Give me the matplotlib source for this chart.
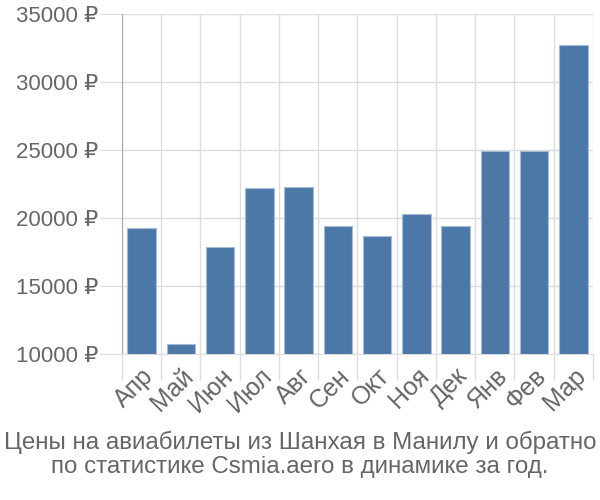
import numpy as np
import matplotlib
matplotlib.use("Agg")
import matplotlib.pyplot as plt

plt.rcParams['font.family'] = ['Liberation Sans', 'DejaVu Sans']

months = ['Апр', 'Май', 'Июн', 'Июл', 'Авг', 'Сен', 'Окт', 'Ноя', 'Дек', 'Янв', 'Фев', 'Мар']
prices = [19300, 10700, 17900, 22200, 22300, 19400, 18700, 20300, 19400, 24950, 24950, 32700]
yticks = [10000, 15000, 20000, 25000, 30000, 35000]
ylabels = [f'{v} ₽' for v in yticks]
title = 'Цены на авиабилеты из Шанхая в Манилу и обратно\nпо статистике Csmia.aero в динамике за год.'

fig = plt.figure(figsize=(6, 5), dpi=100)
ax = fig.add_axes([0.2033, 0.292, 0.785, 0.68])

x = np.arange(len(months))
ax.bar(x, prices, width=0.73, color='#4c78a8', edgecolor='#a5bbd6', linewidth=0.8, zorder=3)

ax.set_xlim(-0.5, len(months) - 0.5)
ax.set_ylim(10000, 35000)

ax.set_yticks(yticks)
ax.set_yticklabels(ylabels, fontsize=16, color='#666666')
ax.tick_params(axis='y', length=16, color='#dddddd', pad=1)

ax.set_xticks(x)
ax.set_xticklabels(months, rotation=45, ha='right', rotation_mode='anchor', fontsize=18, color='#666666')
ax.tick_params(axis='x', which='major', length=0, pad=7)
ax.set_xticks(np.arange(-0.5, len(months)), minor=True)
ax.tick_params(axis='x', which='minor', length=19, color='#dddddd', width=1)

ax.grid(axis='y', color='#dddddd', linewidth=1, zorder=0)
ax.grid(axis='x', which='minor', color='#dddddd', linewidth=1, zorder=0)

for s in ['top', 'right']:
    ax.spines[s].set_visible(False)
ax.spines['bottom'].set_color('#dddddd')
ax.spines['left'].set_color('#aaaaaa')
ax.spines['left'].set_bounds(10000, 35000)

fig.text(0.5, 0.138, title, ha='center', va='top', fontsize=17.4, color='#666666', linespacing=1.1)

fig.savefig('out.png', dpi=100)
